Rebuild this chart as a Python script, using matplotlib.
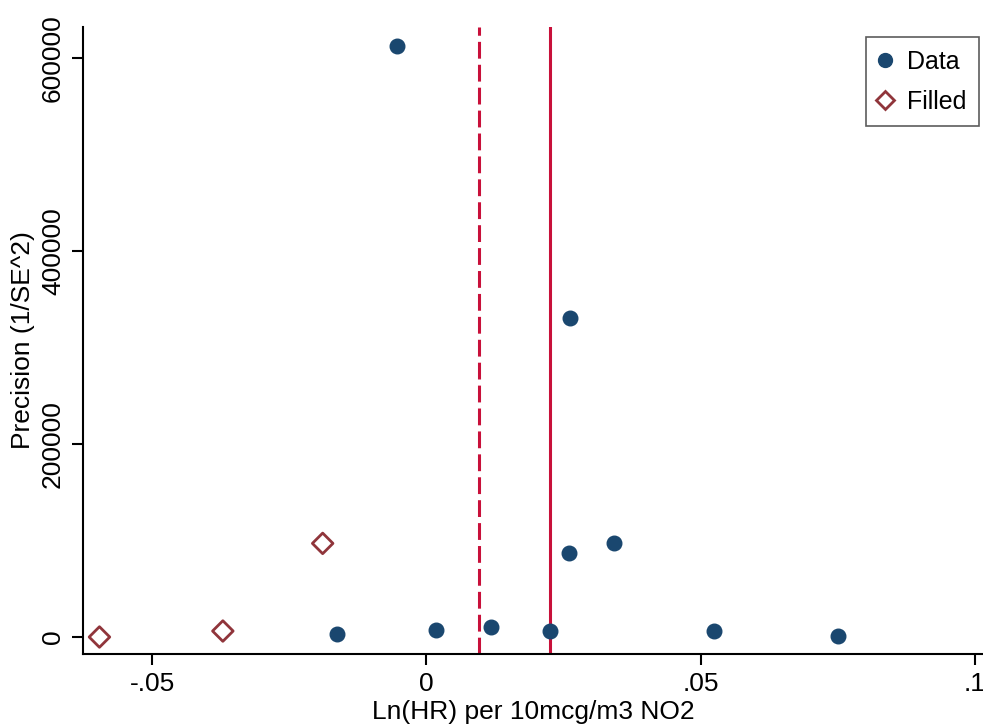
import matplotlib
matplotlib.use("Agg")
import matplotlib.pyplot as plt
from matplotlib.lines import Line2D

# observed studies
data_x = [-0.0053, 0.0262, 0.0260, 0.0342, -0.0162, 0.0018, 0.0118, 0.0226, 0.0525, 0.0750]
data_y = [612000, 330000, 87000, 97500, 3000, 7300, 10300, 6200, 6300, 1000]

# trim-and-fill imputed studies
filled_x = [-0.0596, -0.0371, -0.0189]
filled_y = [0, 6200, 97000]

pooled_filled = 0.0096
pooled_obs = 0.0226

xticks = [-0.05, 0, 0.05, 0.1]
xticklabels = ["-.05", "0", ".05", ".1"]
yticks = [0, 200000, 400000, 600000]
yticklabels = ["0", "200000", "400000", "600000"]

plt.rcParams["font.family"] = ["Liberation Sans", "DejaVu Sans"]

fig = plt.figure(figsize=(9.83, 7.25), dpi=100)
ax = fig.add_axes([83 / 983, 1 - 654 / 725, 900 / 983, 627 / 725])

navy = "#1a476f"
maroon = "#90353b"
red = "#c8103a"

ax.axvline(pooled_filled, color=red, lw=2.2, ls=(0, (5.5, 2)), zorder=1)
ax.axvline(pooled_obs, color=red, lw=2.2, zorder=1)
ax.scatter(data_x, data_y, s=110, color=navy, zorder=3)
ax.scatter(filled_x, filled_y, s=110, marker="D", facecolor="none",
           edgecolor=maroon, linewidths=2, zorder=3)

ax.set_xlim(-0.0626, 0.1015)
ax.set_ylim(-17600, 632000)
ax.set_xticks(xticks)
ax.set_xticklabels(xticklabels)
ax.set_yticks(yticks)
ax.set_yticklabels(yticklabels, rotation=90, va="center")
ax.tick_params(labelsize=19, length=8, width=1.5, pad=5)
ax.spines["top"].set_visible(False)
ax.spines["right"].set_visible(False)
for s in ["left", "bottom"]:
    ax.spines[s].set_linewidth(1.5)

ax.set_xlabel("Ln(HR) per 10mcg/m3 NO2", fontsize=19, labelpad=3)
ax.set_ylabel("Precision (1/SE^2)", fontsize=19, labelpad=4)

handles = [
    Line2D([], [], ls="none", marker="o", ms=10, color=navy, label="Data"),
    Line2D([], [], ls="none", marker="D", ms=9, mfc="none", mec=maroon,
           mew=2, label="Filled"),
]
leg = ax.legend(handles=handles, loc="upper right", bbox_to_anchor=(0.9956, 0.984),
                fontsize=18, frameon=True, fancybox=False, edgecolor="#333333",
                handletextpad=0.65, borderpad=0.5, labelspacing=0.65,
                handlelength=0.5, borderaxespad=0)
leg.get_frame().set_linewidth(1.2)

fig.savefig("out.png", dpi=100)
